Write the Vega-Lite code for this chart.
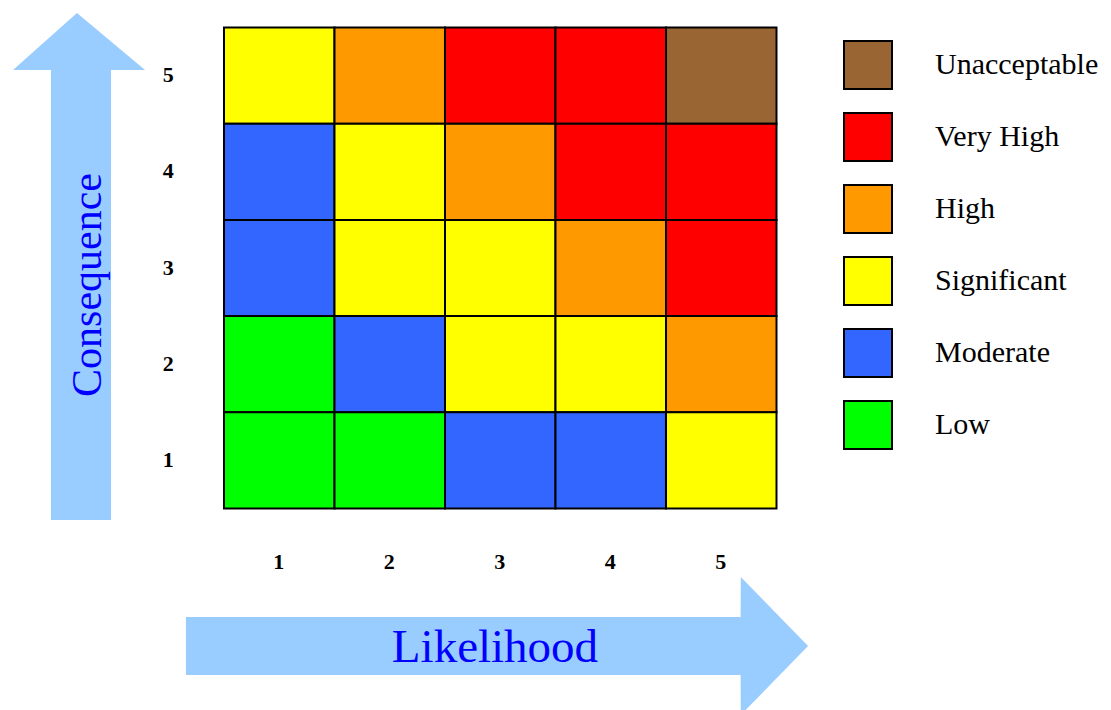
{
  "$schema": "https://vega.github.io/schema/vega-lite/v6.json",
  "width": 1111,
  "height": 710,
  "autosize": {"type": "fit", "contains": "padding"},
  "padding": 0,
  "background": "white",
  "config": {"view": {"stroke": null}, "font": "'Liberation Serif', 'DejaVu Serif', serif", "legend": {"labelFont": "'Liberation Serif', 'DejaVu Serif', serif"}},
  "datasets": {
    "cells": [
      {"lik": 1, "con": 5, "level": "Significant"},
      {"lik": 2, "con": 5, "level": "High"},
      {"lik": 3, "con": 5, "level": "Very High"},
      {"lik": 4, "con": 5, "level": "Very High"},
      {"lik": 5, "con": 5, "level": "Unacceptable"},
      {"lik": 1, "con": 4, "level": "Moderate"},
      {"lik": 2, "con": 4, "level": "Significant"},
      {"lik": 3, "con": 4, "level": "High"},
      {"lik": 4, "con": 4, "level": "Very High"},
      {"lik": 5, "con": 4, "level": "Very High"},
      {"lik": 1, "con": 3, "level": "Moderate"},
      {"lik": 2, "con": 3, "level": "Significant"},
      {"lik": 3, "con": 3, "level": "Significant"},
      {"lik": 4, "con": 3, "level": "High"},
      {"lik": 5, "con": 3, "level": "Very High"},
      {"lik": 1, "con": 2, "level": "Low"},
      {"lik": 2, "con": 2, "level": "Moderate"},
      {"lik": 3, "con": 2, "level": "Significant"},
      {"lik": 4, "con": 2, "level": "Significant"},
      {"lik": 5, "con": 2, "level": "High"},
      {"lik": 1, "con": 1, "level": "Low"},
      {"lik": 2, "con": 1, "level": "Low"},
      {"lik": 3, "con": 1, "level": "Moderate"},
      {"lik": 4, "con": 1, "level": "Moderate"},
      {"lik": 5, "con": 1, "level": "Significant"}
    ],
    "ticks": [{"v": 1}, {"v": 2}, {"v": 3}, {"v": 4}, {"v": 5}],
    "harrow": [
      {"pos": 0.16, "lo": -1.236, "hi": -0.633},
      {"pos": 5.18, "lo": -1.236, "hi": -0.633},
      {"pos": 5.181, "lo": -1.652, "hi": -0.217},
      {"pos": 5.79, "lo": -0.935, "hi": -0.935}
    ],
    "varrow": [
      {"pos": 0.375, "lo": -1.061, "hi": -0.518},
      {"pos": 5.053, "lo": -1.061, "hi": -0.518},
      {"pos": 5.054, "lo": -1.405, "hi": -0.21},
      {"pos": 5.646, "lo": -0.826, "hi": -0.826}
    ]
  },
  "layer": [
    {
      "data": {"name": "harrow"},
      "mark": {"type": "area", "orient": "vertical", "color": "#99CCFF", "clip": true},
      "encoding": {
        "x": {"field": "pos", "type": "quantitative", "scale": {"domain": [-1.5226, 8.5317], "nice": false, "zero": false}, "axis": null},
        "y": {"field": "lo", "type": "quantitative", "scale": {"domain": [-1.5998, 5.7807], "nice": false, "zero": false}, "axis": null},
        "y2": {"field": "hi"}
      }
    },
    {
      "data": {"name": "varrow"},
      "mark": {"type": "area", "orient": "horizontal", "color": "#99CCFF"},
      "encoding": {
        "y": {"field": "pos", "type": "quantitative", "axis": null},
        "x": {"field": "lo", "type": "quantitative", "axis": null},
        "x2": {"field": "hi"}
      }
    },
    {
      "data": {"name": "cells"},
      "mark": {"type": "rect", "stroke": "black", "strokeWidth": 2, "opacity": 1},
      "encoding": {
        "x": {"field": "lik", "type": "quantitative", "bin": {"extent": [0.5, 5.5], "step": 1, "nice": false}, "axis": null},
        "y": {"field": "con", "type": "quantitative", "bin": {"extent": [0.5, 5.5], "step": 1, "nice": false}, "axis": null},
        "color": {
          "field": "level",
          "type": "nominal",
          "scale": {
            "domain": ["Unacceptable", "Very High", "High", "Significant", "Moderate", "Low"],
            "range": ["#996633", "#FF0000", "#FF9900", "#FFFF00", "#3366FF", "#00FF00"]
          },
          "legend": {
            "orient": "none",
            "legendX": 843,
            "legendY": 40,
            "title": null,
            "padding": 0,
            "symbolType": "square",
            "symbolSize": 2304,
            "symbolStrokeColor": "black",
            "symbolStrokeWidth": 2,
            "symbolOpacity": 1,
            "labelFont": "'Liberation Serif', 'DejaVu Serif', serif",
            "labelFontSize": 30,
            "labelColor": "black",
            "labelOffset": 42,
            "rowPadding": 16,
            "labelLimit": 400
          }
        }
      }
    },
    {
      "data": {"name": "ticks"},
      "mark": {"type": "text", "font": "'Liberation Serif', 'DejaVu Serif', serif", "fontWeight": "bold", "fontSize": 22, "color": "black", "baseline": "middle", "align": "center"},
      "encoding": {
        "x": {"field": "v", "type": "quantitative"},
        "y": {"datum": -0.06},
        "text": {"field": "v", "type": "quantitative"}
      }
    },
    {
      "data": {"name": "ticks"},
      "mark": {"type": "text", "font": "'Liberation Serif', 'DejaVu Serif', serif", "fontWeight": "bold", "fontSize": 22, "color": "black", "baseline": "middle", "align": "center"},
      "encoding": {
        "y": {"field": "v", "type": "quantitative"},
        "x": {"datum": 0},
        "text": {"field": "v", "type": "quantitative"}
      }
    },
    {
      "data": {"values": [{"label": "Likelihood"}]},
      "mark": {"type": "text", "font": "'Liberation Serif', 'DejaVu Serif', serif", "fontSize": 47, "color": "#0000FF", "baseline": "alphabetic", "align": "center"},
      "encoding": {
        "x": {"datum": 2.957},
        "y": {"datum": -1.10},
        "text": {"field": "label", "type": "nominal"}
      }
    },
    {
      "data": {"values": [{"label": "Consequence"}]},
      "mark": {"type": "text", "font": "'Liberation Serif', 'DejaVu Serif', serif", "fontSize": 42, "color": "#0000FF", "baseline": "alphabetic", "align": "center", "angle": 270},
      "encoding": {
        "x": {"datum": -0.609},
        "y": {"datum": 2.818},
        "text": {"field": "label", "type": "nominal"}
      }
    }
  ]
}
